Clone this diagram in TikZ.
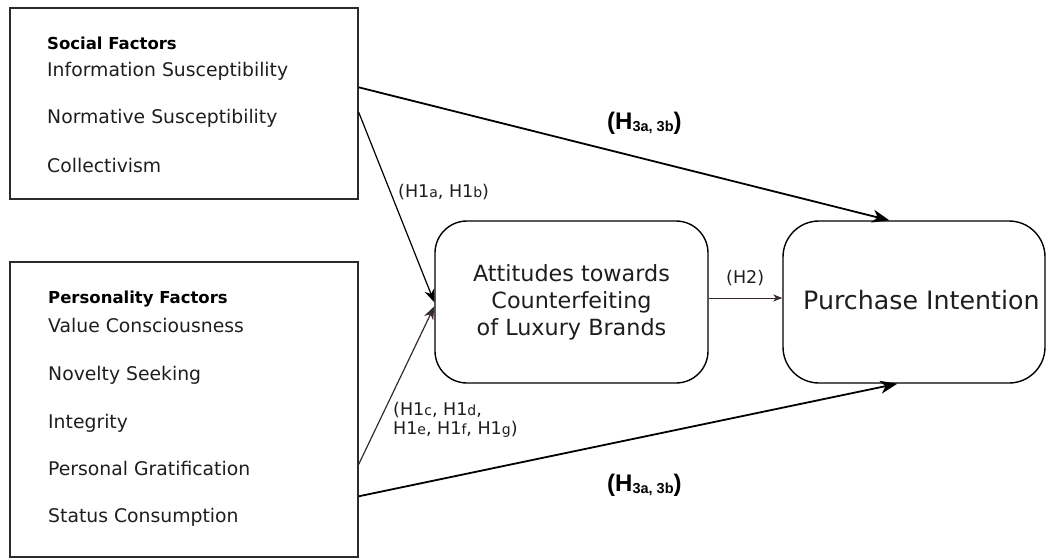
\documentclass[tikz,border=0pt]{standalone}
\usepackage{fontspec}
\setmainfont{DejaVu Sans}
\newfontfamily\arialf{Liberation Sans}
\usetikzlibrary{arrows.meta,calc}
\definecolor{txt}{HTML}{1E1E1E}
\definecolor{edge}{HTML}{2B2B2B}
\definecolor{brownish}{HTML}{3A2A2A}
\newcommand\hsub[1]{{\fontsize{14}{14}\selectfont #1}}
\newcommand\hthree{{\arialf\bfseries\fontsize{24}{24}\selectfont (H\raisebox{-2.5pt}{\fontsize{14.5}{14.5}\selectfont 3a, 3b})}}
\begin{document}
\begin{tikzpicture}[x=1pt,y=-1pt,
  factbox/.style={draw=edge,line width=1.4pt,inner sep=0},
  roundbox/.style={draw=black,line width=1.4pt,inner sep=0,rounded corners=32pt},
  item/.style={anchor=base west,inner sep=0,text=txt,font=\fontsize{18.8}{20}\selectfont},
  head/.style={anchor=base west,inner sep=0,text=black,font=\fontsize{16.5}{20}\selectfont\bfseries},
  hlab/.style={anchor=base west,inner sep=0,text=txt,font=\fontsize{17.5}{20}\selectfont},
  hthreelab/.style={anchor=base west,inner sep=0,text=black},
  bigarrow/.style={draw=black,line width=1.8pt,-{Stealth[length=17pt,width=13pt,inset=5pt]}},
  midarrow/.style={draw=black,line width=1.2pt,-{Stealth[length=13pt,width=10pt,inset=4pt]}},
  smallarrow/.style={draw=brownish,line width=0.9pt,-{Stealth[length=9pt,width=7pt,inset=2.5pt]}}
]
\useasboundingbox (0,0) rectangle (1048,559);
% boxes
\node[factbox,minimum width=348,minimum height=191] (soc) at (184,103.5) {};
\node[factbox,minimum width=348,minimum height=295] (pers) at (184,409.5) {};
\node[roundbox,minimum width=273,minimum height=162] (att) at (571.5,302) {};
\node[roundbox,minimum width=262,minimum height=162,rounded corners=36pt] (pi) at (914,302) {};
% social factors
\node[head] (s0) at (47,50) {Social Factors};
\node[item] (s1) at (47,77) {Information Susceptibility};
\node[item] (s2) at (47,124) {Normative Susceptibility};
\node[item] (s3) at (47,172) {Collectivism};
% personality factors
\node[head] (p0) at (48,303) {Personality Factors};
\node[item] (p1) at (48,332) {Value Consciousness};
\node[item] (p2) at (48,380) {Novelty Seeking};
\node[item] (p3) at (48,428) {Integrity};
\node[item] (p4) at (48,475) {Personal Gratification};
\node[item] (p5) at (48,522) {Status Consumption};
% centre texts
\node[anchor=base,inner sep=0,text=txt,font=\fontsize{22.3}{27}\selectfont] (att1) at (571.5,281) {Attitudes towards};
\node[anchor=base,inner sep=0,text=txt,font=\fontsize{22.3}{27}\selectfont] (att2) at (571.5,308) {Counterfeiting};
\node[anchor=base,inner sep=0,text=txt,font=\fontsize{22.3}{27}\selectfont] (att3) at (571.5,335) {of Luxury Brands};
\node[anchor=base west,inner sep=0,text=txt,font=\fontsize{25.3}{27}\selectfont] (pit) at (803,309) {Purchase Intention};
% arrows
\draw[bigarrow] ($(soc.north east)+(0,80)$) -- ($(pi.north west)+(107,0)$);
\draw[midarrow] ($(soc.north east)+(0,105)$) -- ($(att.north west)+(0,82)$);
\draw[midarrow,draw=brownish] ($(pers.north east)+(0,203)$) -- ($(att.north west)+(0,86)$);
\draw[bigarrow] ($(pers.north east)+(0,235)$) -- ($(pi.south west)+(115,0)$);
\draw[smallarrow] ($(att.east)+(0,-4)$) -- ($(pi.west)+(0,-4)$);
% labels
\node[hlab] (h1ab) at (398,197) {(H1\hsub{a}, H1\hsub{b})};
\node[hlab] (h1c) at (393,415) {(H1\hsub{c}, H1\hsub{d},};
\node[hlab] (h1e) at (393,434) {H1\hsub{e}, H1\hsub{f}, H1\hsub{g})};
\node[hlab] (h2) at (726,283) {(H2)};
\node[hthreelab] (h3top) at (607,129) {\hthree};
\node[hthreelab] (h3bot) at (607,491) {\hthree};
\end{tikzpicture}
\end{document}
